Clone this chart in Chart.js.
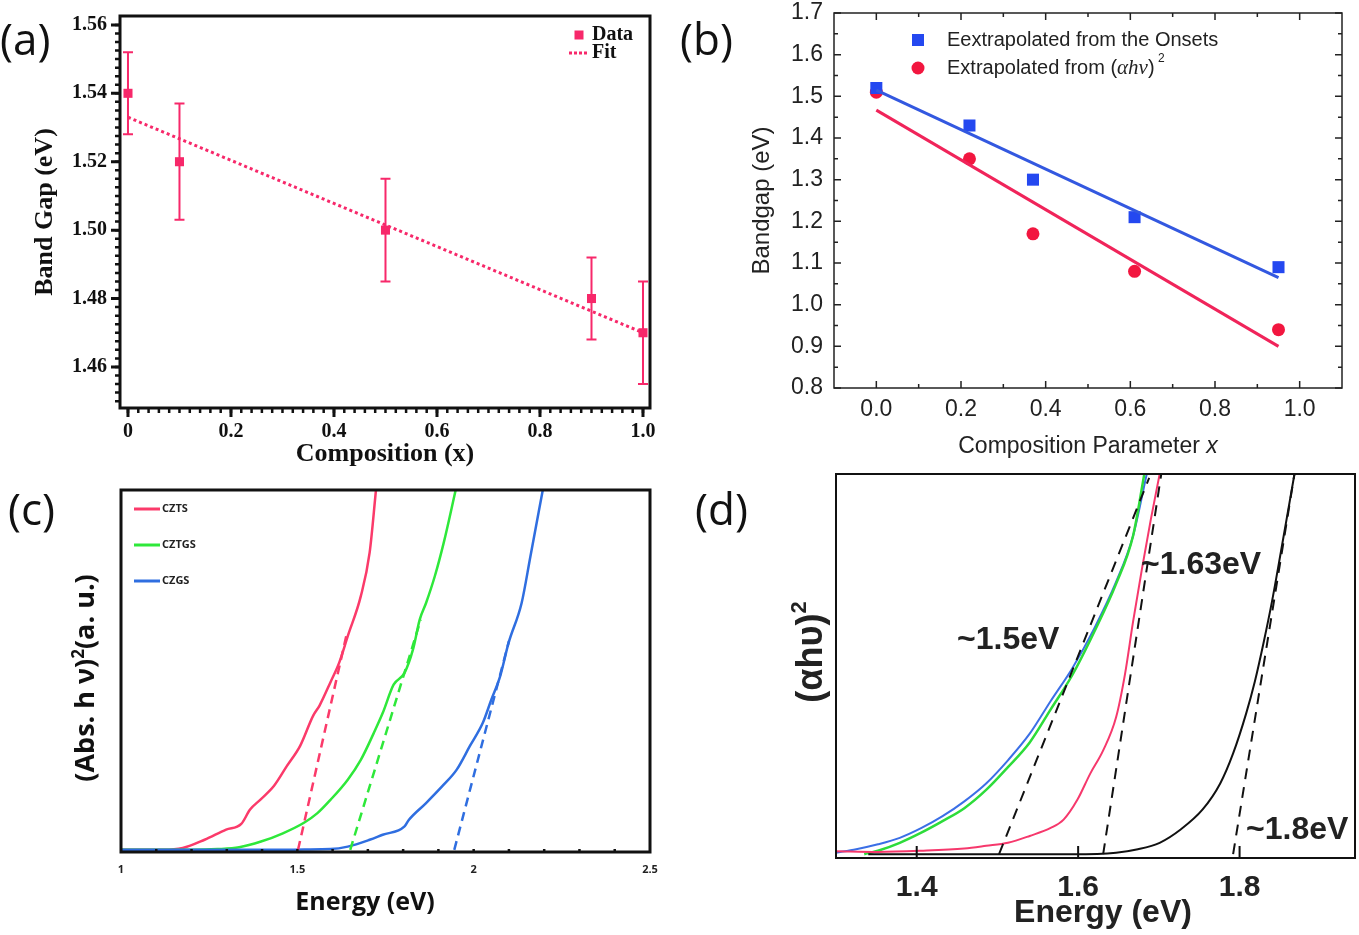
<!DOCTYPE html>
<html>
<head>
<meta charset="utf-8">
<script src="https://cdn.jsdelivr.net/npm/chart.js@4.4.1/dist/chart.umd.min.js"></script>
<style>
  body { margin: 0; background: #fff; width: 1359px; height: 935px; position: relative; overflow: hidden; }
  canvas { position: absolute; }
  .tag { position: absolute; font-family: "Open Sans", sans-serif; font-size: 44px; line-height: 1; color: #111; }
</style>
</head>
<body>
<canvas id="chartA" width="680" height="470" style="left:0;top:0"></canvas>
<canvas id="chartB" width="679" height="470" style="left:680px;top:0"></canvas>
<canvas id="chartC" width="680" height="465" style="left:0;top:470px"></canvas>
<canvas id="chartD" width="679" height="465" style="left:680px;top:470px"></canvas>
<div class="tag" style="left:0;top:16px">(a)</div>
<div class="tag" style="left:680px;top:16px">(b)</div>
<div class="tag" style="left:8px;top:486px">(c)</div>
<div class="tag" style="left:695px;top:486px">(d)</div>

<script>
// ---- (a) band gap vs composition ----
const compA = [0, 0.1, 0.5, 0.9, 1.0];
const gapA = [1.54, 1.52, 1.50, 1.48, 1.47];
const errA = [0.012, 0.017, 0.015, 0.012, 0.015];
const fitXA = [0, 1.0];
const fitYA = [1.533, 1.470];
const tickXA = [0, 0.2, 0.4, 0.6, 0.8, 1.0];
const labelXA = ['0', '0.2', '0.4', '0.6', '0.8', '1.0'];
const tickYA = [1.46, 1.48, 1.50, 1.52, 1.54, 1.56];
const labelYA = ['1.46', '1.48', '1.50', '1.52', '1.54', '1.56'];

// ---- (b) bandgap vs composition parameter ----
const compB = [0, 0.22, 0.37, 0.61, 0.95];
const onsetB = [1.52, 1.43, 1.30, 1.21, 1.09];
const squareB = [1.51, 1.35, 1.17, 1.08, 0.94];
const fitXB = [0, 0.95];
const fitOnsetB = [1.515, 1.065];
const fitSquareB = [1.467, 0.900];
const tickXB = [0, 0.2, 0.4, 0.6, 0.8, 1.0];
const labelXB = ['0.0', '0.2', '0.4', '0.6', '0.8', '1.0'];
const tickYB = [0.8, 0.9, 1.0, 1.1, 1.2, 1.3, 1.4, 1.5, 1.6, 1.7];
const labelYB = ['0.8', '0.9', '1.0', '1.1', '1.2', '1.3', '1.4', '1.5', '1.6', '1.7'];

// ---- (c) (Abs. h nu)^2 vs energy ----
const eCZTS = [1.0, 1.12, 1.175, 1.237, 1.298, 1.341, 1.366, 1.397, 1.434, 1.471, 1.508, 1.545, 1.563, 1.594, 1.619, 1.643, 1.680, 1.705, 1.723];
const yCZTS = [0, 0, 0.5, 2.8, 5.6, 7.2, 11.2, 14.1, 17.8, 23.4, 28.9, 37.3, 40.1, 46.6, 52.1, 59.4, 70.5, 82.6, 100];
const eCZTGS = [1.0, 1.2, 1.274, 1.335, 1.397, 1.459, 1.520, 1.557, 1.594, 1.643, 1.680, 1.717, 1.742, 1.773, 1.804, 1.828, 1.847, 1.865, 1.890, 1.915, 1.949];
const yCZTGS = [0, 0, 0.2, 0.7, 2.3, 4.6, 7.6, 10.2, 13.9, 19.5, 25.0, 32.5, 38.0, 45.9, 49.2, 55.7, 64.0, 68.6, 76.1, 85.3, 100];
const eCZGS = [1.0, 1.45, 1.520, 1.594, 1.643, 1.705, 1.742, 1.804, 1.816, 1.865, 1.915, 1.952, 1.989, 2.026, 2.050, 2.075, 2.099, 2.136, 2.161, 2.196];
const yCZGS = [0, 0, 0.1, 0.2, 0.9, 2.8, 4.2, 6.5, 8.3, 13.0, 18.1, 22.3, 28.8, 35.3, 41.7, 48.2, 57.5, 68.6, 81.6, 100];
const tanCZTS = { e: [1.502, 1.640], y: [0, 60] };
const tanCZTGS = { e: [1.650, 1.850], y: [0, 64] };
const tanCZGS = { e: [1.945, 2.100], y: [0, 58] };
const tickXC = [1, 1.5, 2, 2.5];
const labelXC = ['1', '1.5', '2', '2.5'];

// ---- (d) (alpha h upsilon)^2 vs energy ----
const eBlueD = [1.300, 1.325, 1.352, 1.379, 1.406, 1.432, 1.459, 1.486, 1.513, 1.540, 1.566, 1.593, 1.620, 1.647, 1.668, 1.685];
const yBlueD = [0.4, 1.3, 2.6, 4.3, 6.9, 10.0, 13.9, 18.6, 24.7, 31.7, 40.3, 49.0, 59.4, 71.6, 83.7, 100];
const eGreenD = [1.335, 1.352, 1.379, 1.405, 1.432, 1.459, 1.486, 1.513, 1.540, 1.566, 1.593, 1.620, 1.647, 1.668, 1.682];
const yGreenD = [0, 0.9, 3.0, 5.6, 8.7, 12.1, 16.9, 22.9, 29.4, 38.1, 47.2, 58.5, 71.1, 83.7, 100];
const eRedD = [1.300, 1.352, 1.405, 1.459, 1.486, 1.513, 1.540, 1.566, 1.582, 1.599, 1.615, 1.631, 1.647, 1.658, 1.668, 1.679, 1.690, 1.701];
const yRedD = [0.8, 0.6, 0.9, 1.5, 2.2, 3.0, 4.8, 6.9, 9.1, 14.3, 21.2, 27.3, 36.0, 47.3, 61.1, 75.0, 88.0, 100];
const eBlackD = [1.340, 1.593, 1.647, 1.674, 1.701, 1.727, 1.754, 1.776, 1.792, 1.808, 1.819, 1.830, 1.840, 1.851, 1.868];
const yBlackD = [0, 0, 0.4, 1.3, 3.0, 6.5, 11.7, 18.6, 26.5, 36.9, 45.5, 55.9, 66.3, 79.3, 100];
const tan15 = { e: [1.502, 1.688], y: [0, 99] };
const tan163 = { e: [1.631, 1.703], y: [0, 100] };
const tan18 = { e: [1.792, 1.868], y: [0, 100] };
const tickXD = [1.4, 1.6, 1.8];
const labelXD = ['1.4', '1.6', '1.8'];

function pts(xs, ys) {
  return xs.map((x, i) => ({ x: x, y: ys[i] }));
}

function steps(a, b, step) {
  const out = [];
  for (let v = a; v <= b + 1e-9; v += step) out.push(+v.toFixed(5));
  return out;
}

// box + hand drawn tick marks (inward or outward)
const framePlugin = {
  id: 'frame',
  afterDraw(chart, args, opts) {
    if (!opts.border) return;
    const ctx = chart.ctx, a = chart.chartArea;
    ctx.save();
    ctx.strokeStyle = opts.color || '#000';
    (opts.ticks || []).forEach(t => {
      const scale = chart.scales[t.axis];
      const s = t.dir === 'out' ? 1 : -1;
      ctx.lineWidth = t.width;
      ctx.beginPath();
      t.values.forEach(v => {
        const p = scale.getPixelForValue(v);
        if (t.side === 'bottom') { ctx.moveTo(p, a.bottom); ctx.lineTo(p, a.bottom + s * t.len); }
        else if (t.side === 'top') { ctx.moveTo(p, a.top); ctx.lineTo(p, a.top - s * t.len); }
        else if (t.side === 'left') { ctx.moveTo(a.left, p); ctx.lineTo(a.left - s * t.len, p); }
        else { ctx.moveTo(a.right, p); ctx.lineTo(a.right + s * t.len, p); }
      });
      ctx.stroke();
    });
    ctx.lineWidth = opts.border;
    ctx.strokeRect(a.left, a.top, a.right - a.left, a.bottom - a.top);
    ctx.restore();
  }
};

// error bars for panel (a)
const errPlugin = {
  id: 'errbars',
  afterDatasetsDraw(chart, args, opts) {
    if (!opts.x) return;
    const ctx = chart.ctx, xs = chart.scales.x, ys = chart.scales.y;
    ctx.save();
    ctx.strokeStyle = opts.color;
    ctx.lineWidth = opts.width;
    ctx.beginPath();
    opts.x.forEach((x, i) => {
      const px = xs.getPixelForValue(x);
      const top = ys.getPixelForValue(opts.y[i] + opts.err[i]);
      const bot = ys.getPixelForValue(opts.y[i] - opts.err[i]);
      ctx.moveTo(px, top); ctx.lineTo(px, bot);
      ctx.moveTo(px - opts.cap, top); ctx.lineTo(px + opts.cap, top);
      ctx.moveTo(px - opts.cap, bot); ctx.lineTo(px + opts.cap, bot);
    });
    ctx.stroke();
    ctx.restore();
  }
};

// legends, annotations and mixed-font titles
function drawRuns(ctx, x, y, runs, align) {
  let total = 0;
  runs.forEach(r => { ctx.font = r.font; total += ctx.measureText(r.t).width; });
  let cx = align === 'center' ? x - total / 2 : x;
  runs.forEach(r => {
    ctx.font = r.font;
    ctx.fillText(r.t, cx, y + (r.dy || 0));
    cx += ctx.measureText(r.t).width;
  });
}

const notesPlugin = {
  id: 'notes',
  afterDraw(chart, args, opts) {
    if (!opts.items) return;
    const ctx = chart.ctx;
    ctx.save();
    ctx.textBaseline = 'middle';
    ctx.textAlign = 'left';
    opts.items.forEach(it => {
      ctx.fillStyle = it.color || '#111';
      ctx.strokeStyle = it.color || '#111';
      if (it.type === 'text') {
        if (it.rot) {
          ctx.save();
          ctx.translate(it.x, it.y);
          ctx.rotate(it.rot);
          drawRuns(ctx, 0, 0, it.runs, it.align);
          ctx.restore();
        } else {
          drawRuns(ctx, it.x, it.y, it.runs, it.align);
        }
      } else if (it.type === 'rect') {
        ctx.fillRect(it.x - it.s / 2, it.y - it.s / 2, it.s, it.s);
      } else if (it.type === 'circle') {
        ctx.beginPath(); ctx.arc(it.x, it.y, it.r, 0, Math.PI * 2); ctx.fill();
      } else if (it.type === 'line') {
        ctx.lineWidth = it.width;
        ctx.setLineDash(it.dash || []);
        ctx.beginPath(); ctx.moveTo(it.x1, it.y); ctx.lineTo(it.x2, it.y); ctx.stroke();
        ctx.setLineDash([]);
      }
    });
    ctx.restore();
  }
};

Chart.register(framePlugin, errPlugin, notesPlugin);

function linAxis(o) {
  return {
    type: 'linear', min: o.min, max: o.max,
    grid: { display: false, drawTicks: false }, border: { display: false },
    afterBuildTicks: s => { s.ticks = o.ticks.map(v => ({ value: v })); },
    afterFit: s => {
      if (s.isHorizontal()) s.height = o.size; else s.width = o.size;
      // keep the plot box exactly where it is asked for
      s.paddingTop = s.paddingBottom = s.paddingLeft = s.paddingRight = 0;
    },
    ticks: {
      display: !!o.labels, autoSkip: false, maxRotation: 0, padding: o.pad || 0,
      color: o.color || '#111', font: o.font,
      callback: (v, i) => (o.labels ? o.labels[i] : '')
    },
    title: o.title
      ? { display: true, text: o.title, color: o.color || '#111', font: o.titleFont, padding: o.titlePad }
      : { display: false }
  };
}

function baseOptions(W, T, R, scales, plugins) {
  return {
    responsive: false, animation: false, devicePixelRatio: 1,
    layout: { padding: { left: 0, top: T, right: W - R, bottom: 0 } },
    scales: scales,
    plugins: Object.assign({ legend: { display: false }, tooltip: { enabled: false } }, plugins)
  };
}

// ---------- (a) ----------
const pinkA = '#f7286a';
const serifB = { family: 'Liberation Serif', weight: 'bold' };
new Chart(document.getElementById('chartA'), {
  type: 'scatter',
  data: {
    datasets: [
      { data: pts(fitXA, fitYA), showLine: true, borderColor: pinkA, borderWidth: 3, borderDash: [3, 3], pointRadius: 0 },
      { data: pts(compA, gapA), pointStyle: 'rect', pointRadius: 6.4, backgroundColor: pinkA, borderWidth: 0 }
    ]
  },
  options: baseOptions(680, 16, 650, {
    x: linAxis({ min: -0.0155, max: 1.0136, ticks: tickXA, labels: labelXA, size: 470 - 408, pad: 12,
      font: Object.assign({ size: 20 }, serifB), title: 'Composition (x)',
      titleFont: Object.assign({ size: 26 }, serifB), titlePad: { top: 0, bottom: 0 } }),
    y: linAxis({ min: 1.448, max: 1.5626, ticks: tickYA, labels: labelYA, size: 120, pad: 13,
      font: Object.assign({ size: 20 }, serifB), title: 'Band Gap (eV)',
      titleFont: Object.assign({ size: 26 }, serifB), titlePad: { top: 30, bottom: 0 } })
  }, {
    frame: { border: 3, color: '#111', ticks: [
      { axis: 'x', side: 'bottom', dir: 'out', len: 5, width: 2.5, values: steps(0, 1.0, 0.02) },
      { axis: 'x', side: 'bottom', dir: 'out', len: 9, width: 3, values: tickXA },
      { axis: 'y', side: 'left', dir: 'out', len: 5, width: 2.5, values: steps(1.45, 1.56, 0.0025) },
      { axis: 'y', side: 'left', dir: 'out', len: 9, width: 3, values: tickYA }
    ] },
    errbars: { x: compA, y: gapA, err: errA, color: pinkA, width: 2, cap: 5 },
    notes: { items: [
      { type: 'rect', x: 579, y: 35, s: 9, color: pinkA },
      { type: 'text', x: 592, y: 35, color: '#111', runs: [{ t: 'Data', font: 'bold 20px "Liberation Serif"' }] },
      { type: 'line', x1: 569, x2: 589, y: 53, width: 3, dash: [3, 2], color: pinkA },
      { type: 'text', x: 592, y: 53, color: '#111', runs: [{ t: 'Fit', font: 'bold 20px "Liberation Serif"' }] }
    ] }
  })
});

// ---------- (b) ----------
const blueB = '#2448f0', redB = '#f2163f';
const sansB = { family: 'Liberation Sans' };
new Chart(document.getElementById('chartB'), {
  type: 'scatter',
  data: {
    datasets: [
      { data: pts(fitXB, fitOnsetB), showLine: true, borderColor: '#3358e0', borderWidth: 3, pointRadius: 0 },
      { data: pts(fitXB, fitSquareB), showLine: true, borderColor: '#f0245a', borderWidth: 3, pointRadius: 0 },
      { data: pts(compB, onsetB), pointStyle: 'rect', pointRadius: 8.5, backgroundColor: blueB, borderWidth: 0 },
      { data: pts(compB, squareB), pointStyle: 'circle', pointRadius: 6.5, backgroundColor: redB, borderWidth: 0 }
    ]
  },
  options: baseOptions(679, 13, 662, {
    x: linAxis({ min: -0.1, max: 1.1, ticks: tickXB, labels: labelXB, size: 470 - 388, pad: 8, color: '#222',
      font: Object.assign({ size: 23 }, sansB) }),
    y: linAxis({ min: 0.8, max: 1.7, ticks: tickYB, labels: labelYB, size: 154, pad: 11, color: '#222',
      font: Object.assign({ size: 23 }, sansB), title: 'Bandgap (eV)',
      titleFont: Object.assign({ size: 24 }, sansB), titlePad: { top: 68, bottom: 0 } })
  }, {
    frame: { border: 1.5, color: '#222', ticks: [
      { axis: 'x', side: 'bottom', dir: 'in', len: 4, width: 1.5, values: steps(0.1, 0.9, 0.2) },
      { axis: 'x', side: 'bottom', dir: 'in', len: 7, width: 1.5, values: tickXB },
      { axis: 'x', side: 'top', dir: 'in', len: 4, width: 1.5, values: steps(0.1, 0.9, 0.2) },
      { axis: 'x', side: 'top', dir: 'in', len: 7, width: 1.5, values: tickXB },
      { axis: 'y', side: 'left', dir: 'in', len: 4, width: 1.5, values: steps(0.85, 1.65, 0.1) },
      { axis: 'y', side: 'left', dir: 'in', len: 7, width: 1.5, values: tickYB },
      { axis: 'y', side: 'right', dir: 'in', len: 4, width: 1.5, values: steps(0.85, 1.65, 0.1) },
      { axis: 'y', side: 'right', dir: 'in', len: 7, width: 1.5, values: tickYB }
    ] },
    notes: { items: [
      { type: 'rect', x: 238, y: 40, s: 12, color: blueB },
      { type: 'text', x: 267, y: 40, color: '#222', runs: [{ t: 'Eextrapolated from the Onsets', font: '20px "Liberation Sans"' }] },
      { type: 'circle', x: 238, y: 68, r: 6.5, color: redB },
      { type: 'text', x: 267, y: 68, color: '#222', runs: [
        { t: 'Extrapolated from (', font: '20px "Liberation Sans"' },
        { t: '\u03B1h\u03BD', font: 'italic 21px "Liberation Serif"' },
        { t: ')', font: '20px "Liberation Sans"' },
        { t: ' 2', font: '12px "Liberation Sans"', dy: -9 }
      ] },
      { type: 'text', x: 408, y: 447, align: 'center', color: '#222', runs: [
        { t: 'Composition Parameter ', font: '23px "Liberation Sans"' },
        { t: 'x', font: 'italic 23px "Liberation Sans"' }
      ] }
    ] }
  })
});

// ---------- (c) ----------
const redC = '#fb3a6a', greenC = '#2ee83a', blueC = '#2f6ee0';
const openB = { family: 'Open Sans', weight: 'bold' };
function curve(xs, ys, color, width) {
  return { data: pts(xs, ys), showLine: true, borderColor: color, borderWidth: width, pointRadius: 0, cubicInterpolationMode: 'monotone' };
}
function tangent(t, color, width, dash) {
  return { data: pts(t.e, t.y), showLine: true, borderColor: color, borderWidth: width, borderDash: dash, pointRadius: 0 };
}
new Chart(document.getElementById('chartC'), {
  type: 'scatter',
  data: {
    datasets: [
      tangent(tanCZTS, redC, 2.5, [9, 6]),
      tangent(tanCZTGS, greenC, 2.5, [9, 6]),
      tangent(tanCZGS, blueC, 2.5, [9, 6]),
      curve(eCZGS, yCZGS, blueC, 2.5),
      curve(eCZTGS, yCZTGS, greenC, 2.5),
      curve(eCZTS, yCZTS, redC, 2.5)
    ]
  },
  options: baseOptions(680, 20, 650, {
    x: linAxis({ min: 1, max: 2.5, ticks: tickXC, labels: labelXC, size: 465 - 382, pad: 11, color: '#222',
      font: Object.assign({ size: 11 }, openB) }),
    y: linAxis({ min: -0.6, max: 100, ticks: [], size: 121 })
  }, {
    frame: { border: 3, color: '#111', ticks: [
      { axis: 'x', side: 'bottom', dir: 'in', len: 3, width: 2.5, values: steps(1.1, 2.4, 0.1) }
    ] },
    notes: { items: [
      { type: 'line', x1: 134, x2: 160, y: 39, width: 3, color: redC },
      { type: 'text', x: 162, y: 39, color: '#222', runs: [{ t: 'CZTS', font: 'bold 11px "Open Sans"' }] },
      { type: 'line', x1: 134, x2: 160, y: 75, width: 3, color: greenC },
      { type: 'text', x: 162, y: 75, color: '#222', runs: [{ t: 'CZTGS', font: 'bold 11px "Open Sans"' }] },
      { type: 'line', x1: 134, x2: 160, y: 111, width: 3, color: blueC },
      { type: 'text', x: 162, y: 111, color: '#222', runs: [{ t: 'CZGS', font: 'bold 11px "Open Sans"' }] },
      { type: 'text', x: 365, y: 433, align: 'center', color: '#111', runs: [{ t: 'Energy (eV)', font: 'bold 25px "Open Sans"' }] },
      { type: 'text', x: 86, y: 208, rot: -Math.PI / 2, align: 'center', color: '#111', runs: [
        { t: '(Abs. h \u03BD)', font: 'bold 27px "Open Sans"' },
        { t: '2', font: 'bold 17px "Open Sans"', dy: -7 },
        { t: '(a. u.)', font: 'bold 27px "Open Sans"' }
      ] }
    ] }
  })
});

// ---------- (d) ----------
const blueD = '#3b6fe6', greenD = '#2ddc3a', redD = '#f6386c', blackD = '#111';
const arialB = { family: 'Liberation Sans', weight: 'bold' };
new Chart(document.getElementById('chartD'), {
  type: 'scatter',
  data: {
    datasets: [
      tangent(tan15, blackD, 2, [11, 8]),
      tangent(tan163, blackD, 2, [11, 8]),
      tangent(tan18, blackD, 2, [11, 8]),
      curve(eBlackD, yBlackD, blackD, 2),
      curve(eRedD, yRedD, redD, 2),
      curve(eGreenD, yGreenD, greenD, 2.5),
      curve(eBlueD, yBlueD, blueD, 2)
    ]
  },
  options: baseOptions(679, 4, 675, {
    x: linAxis({ min: 1.30, max: 1.943, ticks: tickXD, labels: labelXD, size: 465 - 388, pad: 12, color: '#222',
      font: Object.assign({ size: 30 }, arialB) }),
    y: linAxis({ min: -1, max: 100, ticks: [], size: 156 })
  }, {
    frame: { border: 2, color: '#111', ticks: [
      { axis: 'x', side: 'bottom', dir: 'in', len: 12, width: 2, values: tickXD }
    ] },
    notes: { items: [
      { type: 'text', x: 277, y: 170, color: '#222', runs: [{ t: '~1.5eV', font: 'bold 32px "Liberation Sans"' }] },
      { type: 'text', x: 461, y: 95, color: '#222', runs: [{ t: '~1.63eV', font: 'bold 32px "Liberation Sans"' }] },
      { type: 'text', x: 566, y: 360, color: '#222', runs: [{ t: '~1.8eV', font: 'bold 32px "Liberation Sans"' }] },
      { type: 'text', x: 423, y: 443, align: 'center', color: '#222', runs: [{ t: 'Energy (eV)', font: 'bold 32px "Liberation Sans"' }] },
      { type: 'text', x: 132, y: 182, rot: -Math.PI / 2, align: 'center', color: '#222', runs: [
        { t: '(\u03B1h\u03C5)', font: 'bold 36px "Liberation Sans"' },
        { t: '2', font: 'bold 22px "Liberation Sans"', dy: -12 }
      ] }
    ] }
  })
});
</script>
</body>
</html>
